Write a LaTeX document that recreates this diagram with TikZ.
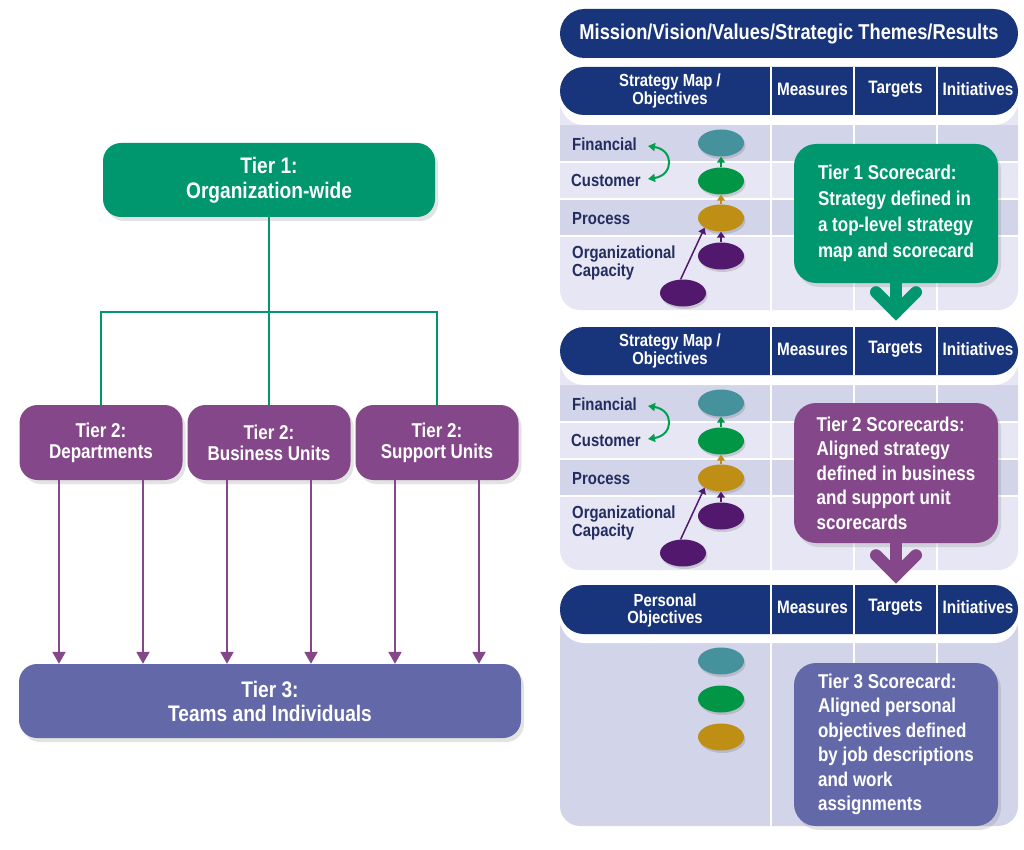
\documentclass[tikz,border=0pt]{standalone}
\usepackage{fontspec}
\setmainfont{Liberation Sans}[FakeStretch=0.85]
\usetikzlibrary{shapes.geometric,arrows.meta,shadows,calc}
\definecolor{navy}{RGB}{24,52,122}
\definecolor{tgreen}{RGB}{0,150,110}
\definecolor{tpurple}{RGB}{132,72,138}
\definecolor{tblue}{RGB}{99,105,168}
\definecolor{lavD}{RGB}{210,212,234}
\definecolor{lavL}{RGB}{230,230,244}
\definecolor{lbl}{RGB}{35,45,95}
\definecolor{eteal}{RGB}{69,146,156}
\definecolor{egreen}{RGB}{0,150,69}
\definecolor{egold}{RGB}{191,142,20}
\definecolor{epurple}{RGB}{82,24,110}
\definecolor{agreen}{RGB}{0,160,80}
\begin{document}
\begin{tikzpicture}[x=1pt,y=-1pt,
  shd/.style={drop shadow={shadow xshift=3pt,shadow yshift=-4pt,opacity=0.22}},
  tierbox/.style={rounded corners=18pt,text=white,align=center,inner sep=0pt,shd},
  gline/.style={draw=tgreen,line width=2.2pt},
  parrow/.style={draw=tpurple,line width=2pt,-{Triangle[width=13pt,length=12pt]}},
  hdrtext/.style={text=white,align=center,inner sep=0pt,font=\bfseries\fontsize{17.5}{17.5}\selectfont},
  hdrone/.style={text=white,inner sep=0pt,font=\bfseries\fontsize{18}{18}\selectfont},
  cardlabel/.style={text=lbl,anchor=west,align=left,inner sep=0pt,font=\bfseries\fontsize{17.5}{18}\selectfont},
  objell/.style={ellipse,minimum width=46pt,minimum height=27pt,inner sep=0pt,drop shadow={shadow xshift=1.5pt,shadow yshift=-2.5pt,opacity=0.3}},
  uparrow/.style={line width=1.5pt,-{Triangle[width=8pt,length=6pt]}},
  callout/.style={rounded corners=22pt,text=white,align=left,inner sep=0pt,minimum width=204pt,shd},
  chev/.style={line width=12pt,line cap=round,line join=miter}
]
\useasboundingbox (0,0) rectangle (1024,850);
\fill[white] (0,0) rectangle (1024,850);

% ---------------- left hierarchy ----------------
\node[tierbox,fill=tgreen,minimum width=332pt,minimum height=74pt,font=\bfseries\fontsize{22.5}{25}\selectfont] (t1) at (269,180) {Tier 1:\\Organization-wide};
\node[tierbox,fill=tpurple,minimum width=163pt,minimum height=75pt,font=\bfseries\fontsize{20}{21}\selectfont] (t2a) at (101,442.5) {Tier 2:\\Departments};
\node[tierbox,fill=tpurple,minimum width=163pt,minimum height=75pt,font=\bfseries\fontsize{20}{21}\selectfont] (t2b) at (269,442.5) {Tier 2:\\Business Units};
\node[tierbox,fill=tpurple,minimum width=163pt,minimum height=75pt,font=\bfseries\fontsize{20}{21}\selectfont] (t2c) at (437,442.5) {Tier 2:\\Support Units};
\node[tierbox,fill=tblue,minimum width=502pt,minimum height=74pt,font=\bfseries\fontsize{22.5}{24}\selectfont] (t3) at (270,701) {Tier 3:\\Teams and Individuals};

\coordinate (bus) at (269,312);
\draw[gline] (t1.south) -- (bus) -- (t2b.north);
\draw[gline] (t2a.north) |- (bus) -| (t2c.north);
\foreach \n in {t2a,t2b,t2c}{
  \foreach \d in {-42,42}{
    \draw[parrow] ([xshift=\d pt]\n.south) -- ([xshift=\d pt]\n.south |- t3.north);
  }
}

% ---------------- right: mission header ----------------
\node[fill=navy,rounded corners=24.5pt,minimum width=458pt,minimum height=49pt,inner sep=0pt,text=white,font=\bfseries\fontsize{21.5}{22}\selectfont] (mis) at (789,33.5) {Mission/Vision/Values/Strategic Themes/Results};

% ---------------- scorecards 1 and 2 ----------------
\foreach \yo/\p in {67/a,327/b}{
  \fill[lavL,rounded corners=20pt] (560,\yo+24) rectangle (1018,\yo+243);
  \fill[lavD] (560,\yo+58) rectangle (1018,\yo+95);
  \fill[lavD] (560,\yo+132) rectangle (1018,\yo+169);
  \draw[white,line width=1.2pt] (560,\yo+95) -- (1018,\yo+95) (560,\yo+132) -- (1018,\yo+132) (560,\yo+169) -- (1018,\yo+169);
  \foreach \xx in {771,854,937} \draw[white,line width=2pt] (\xx,\yo+58) -- (\xx,\yo+243);
  \fill[white,rounded corners=24pt] (560,\yo) rectangle (1018,\yo+58);
  \node[fill=navy,rounded corners=24pt,minimum width=458pt,minimum height=48pt,inner sep=0pt] (hd\p) at (789,\yo+24) {};
  \foreach \xx in {771,854,937} \draw[white,line width=1.5pt] (\xx,\yo) -- (\xx,\yo+48);
  \node[hdrtext] (hs\p) at (670,\yo+24) {Strategy Map /\\Objectives};
  \node[hdrone] (hm\p) at (812.5,\yo+22) {Measures};
  \node[hdrone] (ht\p) at (895.5,\yo+22) {Targets};
  \node[hdrone] (hi\p) at (978,\yo+22) {Initiatives};
  \node[cardlabel] (lf\p) at (572,\yo+77) {Financial};
  \node[cardlabel] (lc\p) at (571,\yo+113) {Customer};
  \node[cardlabel] (lp\p) at (572,\yo+152) {Process};
  \node[cardlabel,font=\bfseries\fontsize{17.5}{18}\selectfont] (lo\p) at (572,\yo+196) {Organizational\\Capacity};
  \node[objell,fill=eteal] (ea\p) at (721,\yo+76) {};
  \node[objell,fill=egreen] (eb\p) at (721,\yo+114) {};
  \node[objell,fill=egold] (ec\p) at (721,\yo+151) {};
  \node[objell,fill=epurple] (ed\p) at (721,\yo+189) {};
  \node[objell,fill=epurple] (ee\p) at (683,\yo+226) {};
  \draw[uparrow,draw=egreen,fill=egreen] (eb\p.north) -- (ea\p.south);
  \draw[uparrow,draw=egold,fill=egold] (ec\p.north) -- (eb\p.south);
  \draw[uparrow,draw=epurple,fill=epurple] (ed\p.north) -- (ec\p.south);
  \draw[uparrow,draw=epurple,fill=epurple] (ee\p.100) -- (ec\p.south west);
  \coordinate (ft\p) at (648,\yo+79);
  \coordinate (ct\p) at (648,\yo+112);
  \draw[agreen,line width=2pt,{Triangle[width=8pt,length=7pt]}-{Triangle[width=8pt,length=7pt]}] (ft\p) .. controls +(26,4) and +(26,-4) .. (ct\p);
}

% ---------------- scorecard 3 ----------------
\fill[lavD,rounded corners=20pt] (560,609) rectangle (1018,826);
\foreach \xx in {771,854,937} \draw[white,line width=2pt] (\xx,643) -- (\xx,826);
\fill[white,rounded corners=24pt] (560,585) rectangle (1018,643);
\node[fill=navy,rounded corners=24pt,minimum width=458pt,minimum height=49pt,inner sep=0pt] (hdc) at (789,609.5) {};
\foreach \xx in {771,854,937} \draw[white,line width=1.5pt] (\xx,585) -- (\xx,634);
\node[hdrtext] (hsc) at (665,610.5) {Personal\\Objectives};
\node[hdrone] (hmc) at (812.5,607) {Measures};
\node[hdrone] (htc) at (895.5,607) {Targets};
\node[hdrone] (hic) at (978,607) {Initiatives};
\node[objell,fill=eteal] (eac) at (721,661) {};
\node[objell,fill=egreen] (ebc) at (721,699) {};
\node[objell,fill=egold] (ecc) at (721,737) {};

% ---------------- callouts ----------------
\node[callout,fill=tgreen,minimum height=139pt,font=\bfseries\fontsize{20}{26}\selectfont] (c1) at (896,213.5) {Tier 1 Scorecard:\\Strategy defined in\\a top-level strategy\\map and scorecard};
\draw[chev,draw=tgreen] (c1.south) -- ([yshift=-29pt]c1.south);
\draw[chev,draw=tgreen] ([xshift=-20pt,yshift=-9pt]c1.south) -- ([yshift=-29pt]c1.south) -- ([xshift=20pt,yshift=-9pt]c1.south);

\node[callout,fill=tpurple,minimum height=140pt,font=\bfseries\fontsize{20}{24.5}\selectfont] (c2) at (896,473) {Tier 2 Scorecards:\\Aligned strategy\\defined in business\\and support unit\\scorecards};
\draw[chev,draw=tpurple] (c2.south) -- ([yshift=-32pt]c2.south);
\draw[chev,draw=tpurple] ([xshift=-20pt,yshift=-12pt]c2.south) -- ([yshift=-32pt]c2.south) -- ([xshift=20pt,yshift=-12pt]c2.south);

\node[callout,fill=tblue,minimum height=163pt,font=\bfseries\fontsize{20}{24.5}\selectfont] (c3) at (896,744.5) {Tier 3 Scorecard:\\Aligned personal\\objectives defined\\by job descriptions\\and work\\assignments};
\end{tikzpicture}
\end{document}
